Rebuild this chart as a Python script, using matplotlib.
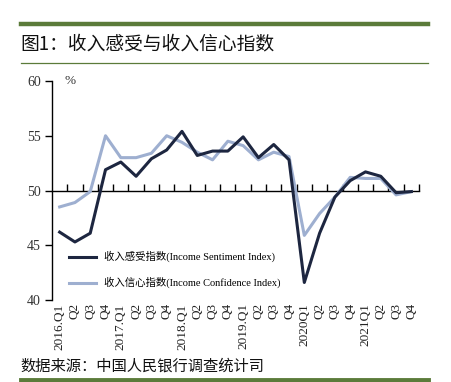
import numpy as np
import matplotlib.pyplot as plt
from matplotlib.lines import Line2D
import matplotlib.transforms as mtransforms

quarters = ['2016.Q1', 'Q2', 'Q3', 'Q4',
            '2017.Q1', 'Q2', 'Q3', 'Q4',
            '2018.Q1', 'Q2', 'Q3', 'Q4',
            '2019.Q1', 'Q2', 'Q3', 'Q4',
            '2020Q1', 'Q2', 'Q3', 'Q4',
            '2021Q1', 'Q2', 'Q3', 'Q4']

# 收入感受指数 (Income Sentiment Index)
sentiment = [46.2, 45.3, 46.1, 51.9, 52.6, 51.3, 52.9, 53.7,
             55.4, 53.2, 53.6, 53.6, 54.9, 53.0, 54.2, 52.8,
             41.6, 46.1, 49.4, 50.9, 51.7, 51.3, 49.8, 49.9]
# 收入信心指数 (Income Confidence Index)
confidence = [48.5, 48.9, 49.9, 55.0, 53.0, 53.0, 53.4, 55.0,
              54.4, 53.5, 52.8, 54.5, 54.1, 52.8, 53.5, 53.1,
              45.9, 47.9, 49.4, 51.2, 51.1, 51.1, 49.6, 49.9]

title = '图1：收入感受与收入信心指数'
source = '数据来源：中国人民银行调查统计司'
labels = ['收入感受指数(Income Sentiment Index)',
          '收入信心指数(Income Confidence Index)']

dark = '#1d2640'
light = '#9eafd0'
green = '#5b7b3a'
cjk = ['Noto Sans CJK SC', 'DejaVu Sans']
serif_cjk = ['Liberation Serif', 'Noto Sans CJK SC']

W, H = 452, 382
fig = plt.figure(figsize=(W / 100, H / 100), dpi=100)

# frame lines and texts of the figure
fig.add_artist(Line2D([21 / W, 428 / W], [1 - 23.5 / H] * 2, color=green, lw=3.2))
fig.add_artist(Line2D([21 / W, 428 / W], [1 - 62.5 / H] * 2, color=green, lw=0.9))
fig.add_artist(Line2D([21 / W, 428 / W], [1 - 380 / H] * 2, color=green, lw=3.5))
fig.text(20 / W, 1 - 44 / H, title, family=cjk, fontsize=13.5, va='center', ha='left', color='#111111')
fig.text(20 / W, 1 - 366 / H, source, family=cjk, fontsize=11, va='center', ha='left', color='#111111')

ax = fig.add_axes([52 / W, 1 - 300 / H, 367 / W, 219 / H])
x = np.arange(len(quarters))
ax.plot(x, confidence, color=light, lw=2.2, label=labels[1], zorder=3)
ax.plot(x, sentiment, color=dark, lw=2.2, label=labels[0], zorder=4)

ax.set_xlim(-0.5, len(quarters) - 0.5)
ax.set_ylim(40, 60)
ax.set_yticks([40, 45, 50, 55, 60])
ax.tick_params(axis='y', direction='out', length=5, width=1, labelsize=10,
               labelcolor='#333333', pad=3)
for t in ax.get_yticklabels():
    t.set_family('Liberation Serif')

ax.spines['top'].set_visible(False)
ax.spines['right'].set_visible(False)
ax.spines['bottom'].set_position(('data', 50))
ax.spines['bottom'].set_linewidth(1)
ax.spines['left'].set_linewidth(1)
ax.set_xticks(np.arange(0.5, len(quarters), 1.0))
ax.tick_params(axis='x', direction='in', length=5, width=1, labelbottom=False)

trans = mtransforms.blended_transform_factory(ax.transData, ax.transAxes)
for i, q in enumerate(quarters):
    ax.text(i, -0.015, q, transform=trans, rotation=90, ha='center', va='top',
            family='Liberation Serif', fontsize=9.5, color='#222222')

ax.text(0.035, 1.0, '%', transform=ax.transAxes, family='Liberation Serif',
        fontsize=9.5, va='center', ha='left', color='#333333')

handles, labs = ax.get_legend_handles_labels()
leg = ax.legend(handles[::-1], labs[::-1], loc='lower left', bbox_to_anchor=(0.02, 0.01),
                frameon=False, handlelength=2.6, labelspacing=1.4,
                prop={'family': serif_cjk, 'size': 7.5})

fig.savefig('out.png', dpi=100)
